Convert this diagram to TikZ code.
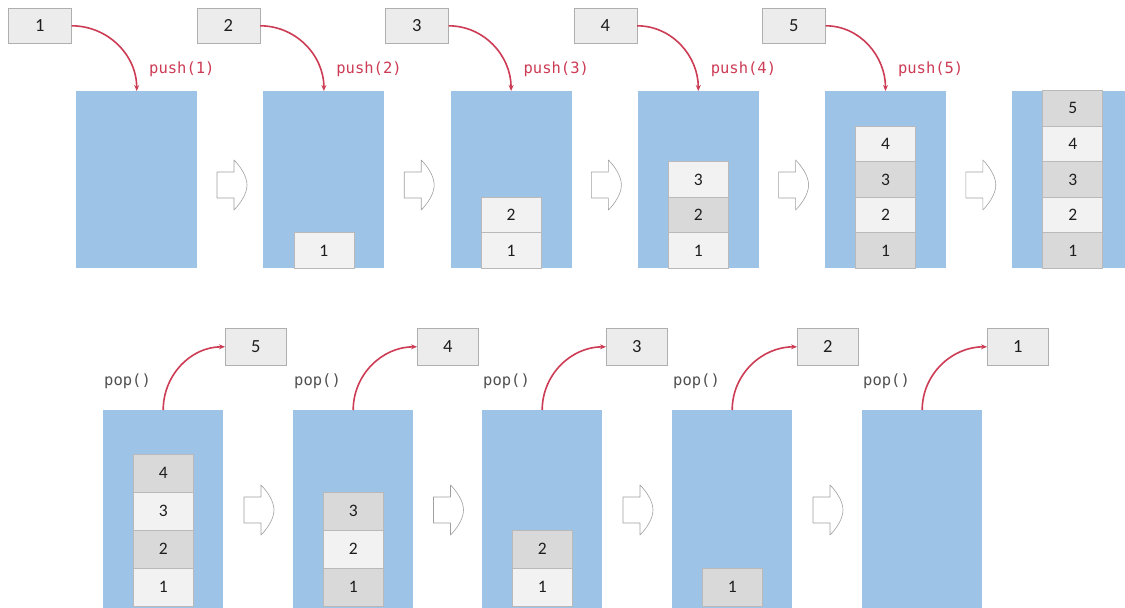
\documentclass[tikz,border=0pt]{standalone}
\usepackage{fontspec}
\setmainfont{Carlito}
\newfontfamily\monof{DejaVu Sans Mono}
\usetikzlibrary{arrows.meta}
\definecolor{stackblue}{RGB}{157,195,230}
\definecolor{celllight}{RGB}{242,242,242}
\definecolor{celldark}{RGB}{217,217,217}
\definecolor{cellline}{RGB}{185,185,185}
\definecolor{boxfill}{RGB}{236,236,236}
\definecolor{boxline}{RGB}{175,175,175}
\definecolor{pushred}{RGB}{205,60,85}
\definecolor{opgray}{RGB}{80,80,80}
\definecolor{nextgray}{RGB}{160,160,160}
\definecolor{numtext}{RGB}{30,30,30}
\tikzset{
  container/.style={fill=stackblue, draw=none, minimum width=121pt, minimum height=177pt, inner sep=0pt, anchor=north west},
  containerB/.style={fill=stackblue, draw=none, minimum width=120pt, minimum height=205pt, inner sep=0pt, anchor=north west},
  cellbase/.style={draw=cellline, line width=0.5pt, minimum width=60pt, inner sep=0pt, anchor=south, text=numtext, font=\fontsize{17.5}{17.5}\selectfont},
  cellL/.style={cellbase, fill=celllight, minimum height=35.5pt},
  cellD/.style={cellbase, fill=celldark, minimum height=35.5pt},
  cellBL/.style={cellbase, fill=celllight, minimum height=38pt},
  cellBD/.style={cellbase, fill=celldark, minimum height=38pt},
  numbox/.style={fill=boxfill, draw=boxline, line width=0.6pt, minimum width=63pt, minimum height=35pt, inner sep=0pt, anchor=north west, text=numtext, font=\fontsize{18.5}{18.5}\selectfont},
  numboxB/.style={numbox, minimum width=61pt, minimum height=37pt},
  opline/.style={draw=pushred, line width=1.6pt, -{Stealth[length=6pt,width=5pt]}},
  pushlabel/.style={anchor=west, inner sep=0pt, text=pushred, font=\monof\fontsize{15.5}{16}\selectfont},
  poplabel/.style={anchor=west, inner sep=0pt, text=opgray, font=\monof\fontsize{15.5}{16}\selectfont},
  nextshape/.style={draw=nextgray, fill=white, line width=0.6pt, line join=round},
  nextarrow/.pic={\draw[nextshape] (0,-13) -- (17,-13) -- (17,-25) .. controls (23,-19) and (30,-9) .. (30,0) .. controls (30,9) and (23,19) .. (17,25) -- (17,13) -- (0,13) -- cycle;}
}
\begin{document}
\begin{tikzpicture}[x=1pt,y=-1pt]
\useasboundingbox (0,0) rectangle (1125,608);
\clip (0,0) rectangle (1125,608);
\fill[white] (0,0) rectangle (1125,608);

% ---------- top row: push ----------
\foreach \i/\x in {1/76,2/263.2,3/450.4,4/637.6,5/824.8,6/1012}
  \node[container] (c\i) at (\x,91) {};

\foreach \c/\k/\s in {2/1/L, 3/1/L, 3/2/L, 4/1/L, 4/2/D, 4/3/L,
                      5/1/D, 5/2/L, 5/3/D, 5/4/L,
                      6/1/D, 6/2/L, 6/3/D, 6/4/L, 6/5/D}
  \node[cell\s] (c\c s\k) at ([yshift={(\k-1)*35.5pt}]c\c.south) {\k};

\foreach \i/\x in {1/8,2/196.5,3/385,4/573.5,5/762}
  \node[numbox] (t\i) at (\x,8) {\i};

\foreach \i in {1,...,5}{
  \draw[opline] (t\i.east) to[out=0,in=90] (c\i.north);
  \node[pushlabel] (pl\i) at ([xshift=73pt,yshift=22pt]c\i.north west) {push(\i)};
}

\foreach \x in {217,404.2,591.4,778.6,965.8}
  \pic at (\x,185) {nextarrow};

% ---------- bottom row: pop ----------
\foreach \i/\x in {1/103,2/293,3/482,4/672,5/862}
  \node[containerB] (d\i) at (\x,410) {};

\foreach \c/\k/\s in {1/1/L, 1/2/D, 1/3/L, 1/4/D,
                      2/1/D, 2/2/L, 2/3/D,
                      3/1/L, 3/2/D,
                      4/1/D}
  \node[cellB\s] (d\c s\k) at ([yshift={(\k-1)*38pt+9pt}]d\c.south) {\k};

\foreach \i/\x/\v in {1/225/5,2/417/4,3/606/3,4/797/2,5/987/1}{
  \node[numboxB] (b\i) at (\x,328) {\v};
  \draw[opline] (d\i.north) to[out=90,in=180] (b\i.west);
  \node[poplabel] (ol\i) at ([xshift=1pt,yshift=29pt]d\i.north west) {pop()};
}

\foreach \x in {244,433.5,623,813}
  \pic at (\x,510) {nextarrow};
\end{tikzpicture}
\end{document}
